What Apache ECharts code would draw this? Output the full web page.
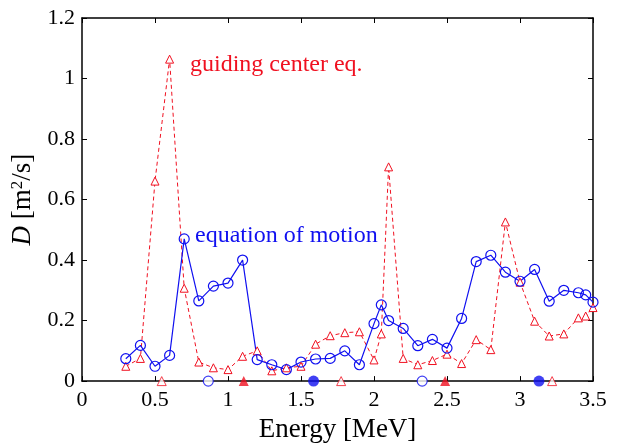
<!DOCTYPE html>
<html>
<head>
<meta charset="utf-8">
<script src="https://cdn.jsdelivr.net/npm/echarts@6/dist/echarts.min.js"></script>
<style>
  html, body { margin: 0; padding: 0; background: #fff; }
  #chart { width: 624px; height: 448px; }
</style>
</head>
<body>
<div id="chart"></div>
<script>
const energy = [0.3, 0.4, 0.5, 0.6, 0.7, 0.8, 0.9, 1.0, 1.1, 1.2, 1.3, 1.4, 1.5, 1.6, 1.7, 1.8, 1.9, 2.0,
  2.05, 2.1, 2.2, 2.3, 2.4, 2.5, 2.6, 2.7, 2.8, 2.9, 3.0, 3.1, 3.2, 3.3, 3.4, 3.45, 3.5]
const motionD = [0.074, 0.118, 0.049, 0.085, 0.47, 0.265, 0.314, 0.324, 0.40, 0.071, 0.054, 0.038, 0.063, 0.073, 0.075, 0.10, 0.054, 0.19,
  0.252, 0.20, 0.174, 0.117, 0.138, 0.109, 0.207, 0.395, 0.416, 0.36, 0.33, 0.369, 0.264, 0.30, 0.292, 0.285, 0.261]
const guidingD = [0.049, 0.075, 0.661, 1.064, 0.307, 0.063, 0.044, 0.038, 0.082, 0.10, 0.034, 0.044, 0.049, 0.122, 0.15, 0.16, 0.163, 0.07,
  0.156, 0.708, 0.075, 0.054, 0.068, 0.089, 0.058, 0.137, 0.104, 0.526, 0.327, 0.198, 0.149, 0.156, 0.209, 0.215, 0.243]

// markers sitting on the energy axis
const motionOpenE = [0.865, 2.33]
const motionFilledE = [1.586, 3.13]
const guidingFilledE = [1.108, 2.487]
const guidingOpenE = [0.546, 1.775, 3.22]

const pairs = (xs, ys) => xs.map((x, i) => [x, ys[i]])
const onAxis = (xs) => xs.map((x) => [x, 0])

const font = 'Liberation Serif'
const blue = '#1010f0'
const red = '#f01020'

const chart = echarts.init(document.getElementById('chart'))

const axisCommon = {
  axisLine: { show: true, onZero: false, lineStyle: { color: '#000', width: 1.5 } },
  axisTick: { show: true, inside: true, length: 5, lineStyle: { color: '#000', width: 1 } },
  splitLine: { show: false }
}

const option = {
  animation: false,
  grid: { left: 82, right: 31, top: 18, bottom: 64 },
  xAxis: [
    {
      type: 'value', min: 0, max: 3.5, interval: 0.5,
      name: 'Energy [MeV]', nameLocation: 'middle', nameGap: 33,
      nameTextStyle: { fontFamily: font, fontSize: 27, color: '#000' },
      axisLabel: { fontFamily: font, fontSize: 22, color: '#000', margin: 8 },
      ...axisCommon
    },
    {
      type: 'value', min: 0, max: 3.5, interval: 0.5, position: 'top',
      axisLabel: { show: false },
      ...axisCommon
    }
  ],
  yAxis: [
    {
      type: 'value', min: 0, max: 1.2, interval: 0.2,
      name: '{i|D} [m{s|2}/s]', nameLocation: 'middle', nameGap: 36, nameRotate: 90,
      nameTextStyle: {
        fontFamily: font, fontSize: 27, color: '#000',
        rich: {
          i: { fontFamily: font, fontSize: 27, fontStyle: 'italic', color: '#000' },
          s: { fontFamily: font, fontSize: 17, color: '#000', verticalAlign: 'top', padding: [0, 0, 12, 0] }
        }
      },
      axisLabel: { fontFamily: font, fontSize: 22, color: '#000', margin: 7 },
      ...axisCommon
    },
    {
      type: 'value', min: 0, max: 1.2, interval: 0.2, position: 'right',
      axisLabel: { show: false },
      ...axisCommon
    }
  ],
  series: [
    {
      type: 'line',
      data: pairs(energy, guidingD),
      symbol: 'triangle', symbolSize: 8,
      lineStyle: { color: red, width: 1, type: [4, 3] },
      itemStyle: { color: '#fff', borderColor: red, borderWidth: 1 }
    },
    {
      type: 'line',
      data: pairs(energy, motionD),
      symbol: 'circle', symbolSize: 10,
      lineStyle: { color: blue, width: 1.2 },
      itemStyle: { color: 'transparent', borderColor: blue, borderWidth: 1.2 }
    },
    {
      type: 'scatter', clip: false, z: 5,
      data: onAxis(motionOpenE),
      symbol: 'circle', symbolSize: 10,
      itemStyle: { color: '#fff', borderColor: blue, borderWidth: 1.2 }
    },
    {
      type: 'scatter', clip: false, z: 5,
      data: onAxis(motionFilledE),
      symbol: 'circle', symbolSize: 11,
      itemStyle: { color: blue }
    },
    {
      type: 'scatter', clip: false, z: 5,
      data: onAxis(guidingFilledE),
      symbol: 'triangle', symbolSize: 10,
      itemStyle: { color: red }
    },
    {
      type: 'scatter', clip: false, z: 5,
      data: onAxis(guidingOpenE),
      symbol: 'triangle', symbolSize: 9,
      itemStyle: { color: '#fff', borderColor: red, borderWidth: 1 }
    }
  ],
  graphic: [
    {
      type: 'text', left: 190, top: 53,
      style: { text: 'guiding center eq.', fontFamily: font, fontSize: 24, fill: red }
    },
    {
      type: 'text', left: 195, top: 224,
      style: { text: 'equation of motion', fontFamily: font, fontSize: 24, fill: blue }
    }
  ]
}

chart.setOption(option)
</script>
</body>
</html>
